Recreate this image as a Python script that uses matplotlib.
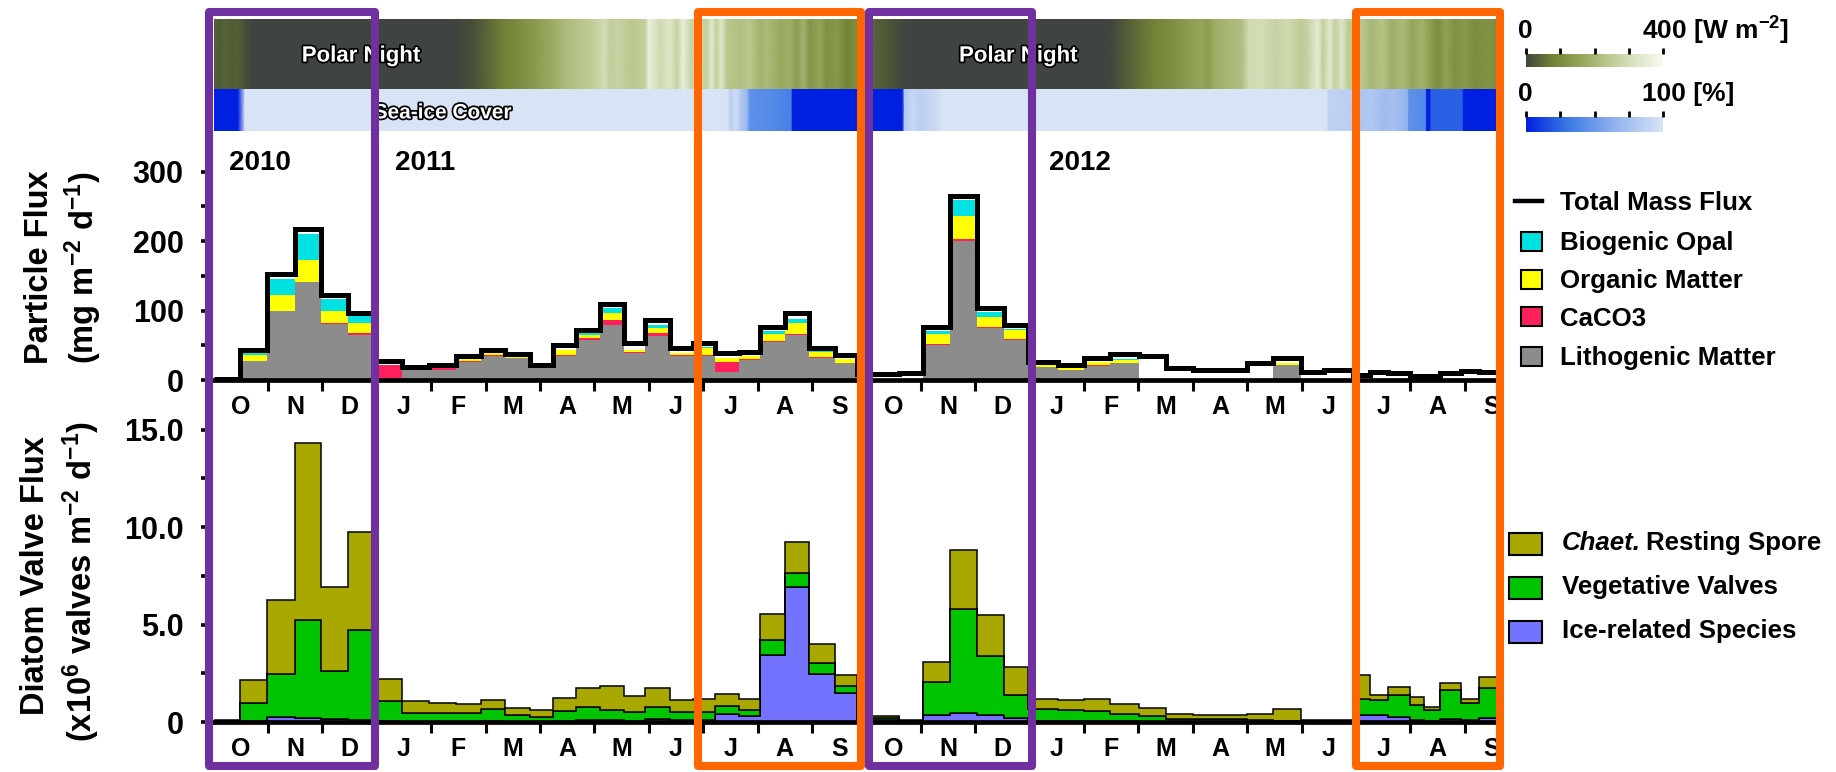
import numpy as np
import matplotlib
matplotlib.use('Agg')
import matplotlib.pyplot as plt
import matplotlib.patheffects as pe
import matplotlib.transforms as mtransforms
from matplotlib.colors import LinearSegmentedColormap, Normalize
from matplotlib.cm import ScalarMappable
from matplotlib.patches import Rectangle
from matplotlib.lines import Line2D

# ---------------- data (time axis: months since 1 Oct 2010) ----------------
# sediment trap cup open/close times
cup_edges = [0.0, 0.48, 0.98, 1.5, 1.98, 2.47, 2.95, 3.47, 3.96, 4.46, 4.92,
             5.36, 5.82, 6.24, 6.66, 7.10, 7.55, 7.93, 8.39, 8.81, 9.22, 9.66,
             10.05, 10.50, 10.95, 11.42, 11.83, 12.60, 13.04, 13.54, 14.03,
             14.53, 14.97, 15.52, 16.0, 16.48, 17.01, 17.51, 18.0, 18.5, 19.0,
             19.47, 19.99, 20.41, 20.95, 21.25, 21.58, 22.0, 22.25, 22.55,
             22.93, 23.25, 23.59]

# particle flux components, mg m-2 d-1
lithogenic = [1.5, 27, 99, 141, 81, 65, 3, 14, 15, 26, 35, 31, 19, 34, 58, 79,
              39, 63, 34, 34, 12, 29, 55, 65, 31, 24, 0, 0, 51, 200, 75, 58,
              19, 15, 20, 25, 0, 0, 0, 0, 0, 21, 0, 0, 0, 0, 0, 0, 0, 0, 0, 0]
caco3 = [0, 1, 1, 0.5, 0.5, 2, 18, 3, 3, 1, 0.5, 0.5, 0, 2, 2, 8, 2, 4, 2, 2,
         14, 1, 0.5, 0.5, 2, 0.5, 0, 0, 1, 3, 1, 0.5, 0, 0, 1, 0, 0, 0, 0, 0,
         0, 0, 0, 0, 0, 0, 0, 0, 0, 0, 0, 0]
organic = [0, 8, 23, 31, 18, 15, 1, 0, 0, 3, 3, 3, 0, 7, 5, 9, 2, 8, 3, 10, 5,
           4, 11, 16, 8, 6, 0, 0, 14, 33, 15, 13, 3, 3, 5, 4, 2, 0, 0, 0, 0,
           3, 0, 0, 0, 0, 0, 0, 0, 0, 0, 0]
opal = [0, 4, 22, 37, 17, 12, 0, 0, 0, 0, 0.5, 0, 0, 0, 5, 7, 0, 4, 0, 1, 0,
        0, 4, 7, 1, 0, 0, 0, 5, 23, 7, 2, 0, 0, 0, 1, 0, 0, 0, 0, 0, 0, 0, 0,
        0, 0, 0, 0, 0, 0, 0, 0]
total_mass = [2, 43, 152, 217, 123, 96, 28, 19, 22, 34, 43, 38, 22, 50, 72,
              110, 53, 87, 46, 53, 39, 41, 77, 96, 46, 36, 8, 10, 77, 265, 104,
              79, 26, 22, 31, 38, 34, 17, 14, 14, 24, 31, 12, 14, 7, 12, 10, 6,
              6, 10, 13, 11]

# diatom valve flux, x10^6 valves m-2 d-1
ice_related = [0.02, 0.05, 0.26, 0.22, 0.14, 0.1, 0.05, 0.02, 0.02, 0.02,
               0.03, 0.02, 0.02, 0.03, 0.09, 0.1, 0.05, 0.17, 0.1, 0.1, 0.4,
               0.29, 3.45, 6.95, 2.45, 1.47, 0.1, 0.03, 0.34, 0.47, 0.38, 0.22,
               0.05, 0.05, 0.05, 0.03, 0.02, 0.02, 0.02, 0.02, 0.01, 0.0, 0.03,
               0.03, 0.34, 0.38, 0.26, 0.12, 0.05, 0.17, 0.1, 0.22]
vegetative = [0.05, 0.9, 2.21, 5.0, 2.5, 4.6, 1.03, 0.45, 0.45, 0.45, 0.66,
              0.32, 0.24, 0.52, 0.69, 0.5, 0.47, 0.61, 0.42, 0.42, 0.41, 0.31,
              0.77, 0.72, 0.6, 0.37, 0.1, 0.03, 1.73, 5.34, 3.02, 1.19, 0.64,
              0.55, 0.5, 0.4, 0.27, 0.15, 0.15, 0.12, 0.11, 0.05, 0.03, 0.03,
              0.86, 0.74, 1.12, 0.74, 0.55, 1.47, 0.88, 1.5]
resting_spore = [0.05, 1.21, 3.79, 9.08, 4.29, 5.04, 1.12, 0.6, 0.51, 0.44,
                 0.43, 0.38, 0.38, 0.69, 0.94, 1.24, 0.81, 0.94, 0.6, 0.68,
                 0.62, 0.6, 1.3, 1.59, 0.95, 0.57, 0.1, 0.04, 1.03, 3.02, 2.07,
                 1.4, 0.47, 0.52, 0.65, 0.47, 0.43, 0.26, 0.21, 0.2, 0.31,
                 0.64, 0.04, 0.04, 1.21, 0.26, 0.43, 0.43, 0.18, 0.34, 0.22,
                 0.61]

# shortwave radiation, W m-2
sun_month = [0.0, 0.12, 0.21, 0.33, 0.45, 0.58, 0.70, 4.44, 4.75, 5.05,
             5.36, 5.54, 5.73, 5.96, 6.21, 6.46, 6.70, 6.94, 7.19, 7.28,
             7.44, 7.69, 7.93, 8.0, 8.21, 8.39, 8.52, 8.63, 8.76, 9.0,
             9.06, 9.16, 9.24, 9.33, 9.44, 9.68, 9.86, 10.05, 10.17, 10.41,
             10.60, 10.72, 10.84, 10.96, 11.15, 11.27, 11.46, 11.64, 11.83, 12.0,
             12.19, 12.38, 12.56, 12.74, 16.44, 16.57, 16.81, 17.06, 17.30, 17.49,
             17.67, 17.91, 18.17, 18.28, 18.41, 18.65, 18.90, 19.02, 19.27, 19.51,
             19.75, 19.99, 20.11, 20.30, 20.39, 20.52, 20.61, 20.74, 20.85, 21.11,
             21.29, 21.48, 21.66, 21.85, 22.03, 22.22, 22.40, 22.51, 22.64, 22.82,
             23.0, 23.19, 23.37, 23.59]
sun_wm2 = [35, 25, 40, 30, 35, 15, 0, 0, 15, 45,
           80, 95, 115, 140, 170, 210, 230, 250, 300, 260,
           270, 240, 260, 360, 290, 330, 270, 360, 280, 270,
           260, 340, 260, 330, 240, 220, 240, 190, 210, 170,
           180, 140, 190, 120, 160, 110, 130, 80, 110, 55,
           35, 25, 12, 0, 0, 10, 35, 60, 80, 95,
           110, 140, 160, 140, 180, 200, 220, 290, 300, 270,
           290, 250, 270, 350, 260, 340, 260, 330, 250, 240,
           200, 230, 180, 210, 160, 190, 130, 100, 150, 110,
           130, 100, 115, 105]

# sea-ice cover, %
ice_month = [0.0, 0.45, 0.58, 9.45, 9.50, 9.60, 9.70, 9.80, 9.86, 10.30,
             10.62, 10.64, 12.66, 12.70, 12.85, 13.0, 13.3, 13.4, 20.45, 20.5,
             20.95, 21.0, 21.3, 21.5, 21.7, 21.95, 21.97, 22.28, 22.30, 22.36,
             22.38, 22.95, 22.98, 23.59]
ice_pct = [0, 0, 100, 100, 85, 95, 80, 70, 45, 40,
           35, 0, 0, 80, 92, 85, 95, 100, 100, 88,
           85, 78, 80, 72, 75, 65, 45, 40, 0, 0,
           22, 22, 0, 0]

month_labels = ['O', 'N', 'D', 'J', 'F', 'M', 'A', 'M', 'J', 'J', 'A', 'S'] * 2
year_labels = ['2010', '2011', '2012']
year_pos = [0.28, 3.34, 15.36]
night_pos = [2.71, 14.79]
# highlighted periods (autumn / late summer), months
highlight_spans = [(-0.08, 2.96, '#7030a0'), (8.9, 11.9, '#ff6600'),
                   (12.04, 15.04, '#7030a0'), (21.0, 23.65, '#ff6600')]

# ---------------- layout helpers (pixels) ----------------
W, H = 1836, 772


def fx(px):
    return px / W


def fy(py):
    return 1 - py / H


plt.rcParams['font.family'] = ['Liberation Sans', 'DejaVu Sans']
plt.rcParams['font.weight'] = 'bold'
plt.rcParams['mathtext.default'] = 'regular'

fig = plt.figure(figsize=(W / 100, H / 100), dpi=100)
X0, X1 = 213.5, 1497
xmax = cup_edges[-1]


def add_ax(top, bottom):
    return fig.add_axes([fx(X0), fy(bottom), (X1 - X0) / W, (bottom - top) / H])


sun_cmap = LinearSegmentedColormap.from_list(
    'sun', [(0, '#3f4440'), (0.06, '#4e5836'), (0.2, '#738338'),
            (0.4, '#95a55a'), (0.6, '#bac88e'), (0.8, '#dbe4c4'),
            (1, '#f7faf0')])
ice_cmap = LinearSegmentedColormap.from_list(
    'ice', [(0, '#0020e0'), (0.3, '#3a78e6'), (0.65, '#93b2ee'),
            (1, '#d8e3f6')])

# ---------------- radiation and sea-ice strips ----------------
ax_sun = add_ax(18.7, 89)
xs, ys = np.meshgrid(sun_month, [0, 1])
ax_sun.pcolormesh(xs, ys, np.vstack([sun_wm2, sun_wm2]), cmap=sun_cmap,
                  vmin=0, vmax=400, shading='gouraud')
ax_sun.set_xlim(0, xmax)
ax_sun.set_ylim(0, 1)
ax_sun.axis('off')

ax_ice = add_ax(89, 131)
xi, yi = np.meshgrid(ice_month, [0, 1])
ax_ice.pcolormesh(xi, yi, np.vstack([ice_pct, ice_pct]), cmap=ice_cmap,
                  vmin=0, vmax=100, shading='gouraud')
ax_ice.set_xlim(0, xmax)
ax_ice.set_ylim(0, 1)
ax_ice.axis('off')

outline = [pe.withStroke(linewidth=2.5, foreground='black')]
for p in night_pos:
    ax_sun.text(p, 0.39, 'Polar Night', ha='center', va='baseline',
                color='white', fontsize=16, path_effects=outline)
ax_ice.text(4.22, 0.30, 'Sea-ice Cover', ha='center', va='baseline',
            color='white', fontsize=15, path_effects=outline)


def month_axis(ax):
    ax.set_xlim(0, xmax)
    for s in ['top', 'right', 'left']:
        ax.spines[s].set_visible(False)
    ax.spines['left'].set_position(('outward', 5))
    ax.spines['bottom'].set_linewidth(3.4)
    ax.set_xticks(range(1, 24))
    ax.set_xticklabels([])
    ax.set_xticks(np.arange(24) + 0.5, minor=True)
    ax.set_xticklabels(month_labels, minor=True)
    ax.tick_params(axis='x', which='major', direction='out', length=8, width=2.2)
    ax.tick_params(axis='x', which='minor', length=0, pad=11, labelsize=18)
    ax.tick_params(axis='y', which='both', direction='out', length=4.5,
                   width=2.6, pad=12, labelsize=22)


# ---------------- particle flux ----------------
ax1 = add_ax(132, 380)
n = len(total_mass)
base = np.zeros(n)
for vals, col in [(lithogenic, '#8c8c8c'), (caco3, '#ff1f5a'),
                  (organic, '#ffff00'), (opal, '#00e1e1')]:
    vals = np.asarray(vals, dtype=float)
    ax1.stairs(base + vals, cup_edges, baseline=base, fill=True, color=col, lw=0)
    base = base + vals
ax1.stairs(total_mass, cup_edges, baseline=None, color='black', lw=3.6)
ax1.vlines([3, 15], 0, 340, color='black', lw=1.3)
ax1.set_ylim(0, 357)
month_axis(ax1)
ax1.set_yticks([0, 100, 200, 300])
ax1.set_yticks([50, 150, 250], minor=True)
for yr, p in zip(year_labels, year_pos):
    ax1.text(p, 313, yr, ha='left', va='center', fontsize=20)

# ---------------- diatom valve flux ----------------
ax2 = add_ax(422, 722)
base = np.zeros(n)
for vals, col in [(ice_related, '#7373ff'), (vegetative, '#00c400'),
                  (resting_spore, '#a8a800')]:
    vals = np.asarray(vals, dtype=float)
    ax2.stairs(base + vals, cup_edges, baseline=base, fill=True,
               facecolor=col, edgecolor='black', lw=1.1)
    base = base + vals
ax2.set_ylim(0, 15.4)
month_axis(ax2)
ax2.set_yticks([0, 5, 10, 15])
ax2.set_yticklabels(['0', '5.0', '10.0', '15.0'])
ax2.set_yticks([2.5, 7.5, 12.5], minor=True)

# ---------------- axis titles ----------------
lab = dict(rotation=90, ha='center', va='center', fontsize=23.5)
fig.text(fx(40), fy(267), 'Particle Flux', **lab)
fig.text(fx(83), fy(268), '(mg m$^{-2}$ d$^{-1}$)', **lab)
fig.text(fx(36), fy(576), 'Diatom Valve Flux', **lab)
fig.text(fx(81.5), fy(582), '(x10$^{6}$ valves m$^{-2}$ d$^{-1}$)', **lab)

# ---------------- colour scales ----------------
for (top, bot, cmap, vmax, ticks, unit, ly) in [
        (54, 67, sun_cmap, 400, [0, 100, 200, 300, 400], '400 [W m$^{-2}$]', 31),
        (117, 132, ice_cmap, 100, [0, 25, 50, 75, 100], '100 [%]', 94)]:
    cax = fig.add_axes([fx(1526), fy(bot), (1663 - 1526) / W, (bot - top) / H])
    cb = fig.colorbar(ScalarMappable(Normalize(0, vmax), cmap), cax=cax,
                      orientation='horizontal', ticks=ticks)
    cb.outline.set_visible(False)
    cax.xaxis.set_ticks_position('top')
    cax.tick_params(axis='x', direction='out', length=4, width=2,
                    labeltop=False, labelbottom=False)
    fig.text(fx(1525), fy(ly), '0', ha='center', va='center', fontsize=19)
    fig.text(fx(1642), fy(ly), unit, ha='left', va='center', fontsize=19)

# ---------------- legends ----------------
LEG = 18.6
drop = 0.358 * LEG * 100 / 72   # cap centre -> baseline, px
leg = dict(ha='left', va='baseline', fontsize=LEG)
fig.add_artist(Line2D([fx(1515), fx(1542)], [fy(201), fy(201)],
                      transform=fig.transFigure, color='black', lw=3.2))
fig.text(fx(1560), fy(201 + drop), 'Total Mass Flux', **leg)
for yc, col, name in [(241, '#00e1e1', 'Biogenic Opal'),
                      (279, '#ffff00', 'Organic Matter'),
                      (317, '#ff1f5a', 'CaCO3'),
                      (356, '#8c8c8c', 'Lithogenic Matter')]:
    fig.add_artist(Rectangle((fx(1521), fy(yc + 9.5)), 21 / W, 19 / H,
                             transform=fig.transFigure, facecolor=col,
                             edgecolor='black', lw=1.5))
    fig.text(fx(1560), fy(yc + drop), name, **leg)

for yc, col in [(544, '#a8a800'), (588, '#00c400'), (631.5, '#7373ff')]:
    fig.add_artist(Rectangle((fx(1509), fy(yc + 11)), 33 / W, 22 / H,
                             transform=fig.transFigure, facecolor=col,
                             edgecolor='black', lw=1.5))
t = fig.text(fx(1562), fy(541 + drop), 'Chaet.', style='italic', **leg)
renderer = fig.canvas.get_renderer()
bb = t.get_window_extent(renderer)
fig.text(bb.x1 / W + fx(5), fy(541 + drop), 'Resting Spore', **leg)
fig.text(fx(1562), fy(585 + drop), 'Vegetative Valves', **leg)
fig.text(fx(1562), fy(629 + drop), 'Ice-related Species', **leg)

# ---------------- highlight frames ----------------
trans = mtransforms.blended_transform_factory(ax1.transData, fig.transFigure)
for a, b, col in highlight_spans:
    fig.add_artist(Rectangle((a, fy(766)), b - a, fy(12) - fy(766),
                             transform=trans, fill=False, edgecolor=col,
                             lw=5.8, joinstyle='round', zorder=10))

fig.savefig('out.png', dpi=100, facecolor='white')
